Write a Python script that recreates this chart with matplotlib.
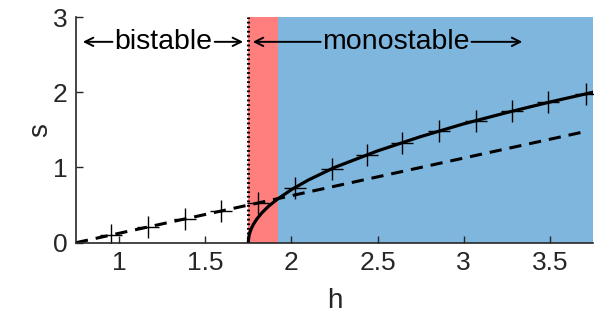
import matplotlib.pyplot as plt

plt.rcParams['font.family'] = ['Liberation Sans', 'DejaVu Sans']

# stable branch (solid)
h_solid = [1.75, 1.752, 1.755, 1.76, 1.77, 1.78, 1.80, 1.83, 1.87, 1.92, 2.0, 2.1,
           2.25, 2.5, 2.75, 3.0, 3.25, 3.5, 3.75]
s_solid = [0.0, 0.06, 0.10, 0.14, 0.20, 0.245, 0.316, 0.40, 0.49, 0.58, 0.705, 0.835,
           1.0, 1.22, 1.41, 1.58, 1.73, 1.87, 2.0]

# other branch (dashed)
h_dash = [0.75, 3.72]
s_dash = [0.0, 1.485]

# simulation points (crosses)
h_sim = [0.953, 1.166, 1.38, 1.593, 1.806, 2.02, 2.233, 2.436, 2.643, 2.858,
         3.07, 3.28, 3.49, 3.71]
s_sim = [0.10, 0.21, 0.315, 0.42, 0.53, 0.73, 0.98, 1.17, 1.33, 1.48,
         1.62, 1.75, 1.865, 1.98]

h_crit = 1.75      # dotted line
h_red_end = 1.922  # end of red band

fig = plt.figure(figsize=(5.98, 3.18), dpi=100)
ax = fig.add_axes([0.127, 0.2368, 0.8646, 0.7097])

ax.axvspan(h_crit, h_red_end, color='#ff7f7f', lw=0, zorder=0)
ax.axvspan(h_red_end, 3.75, color='#7fb6de', lw=0, zorder=0)
ax.plot([h_crit, h_crit], [0, 3], color='black', lw=2.2, ls=(0, (0.6, 0.9)), zorder=2)

ax.plot(h_dash, s_dash, color='black', lw=2.2, dashes=(4, 2.6), zorder=3)
ax.plot(h_solid, s_solid, color='black', lw=2.3, zorder=3)
ax.plot(h_sim, s_sim, ls='none', marker='+', ms=16, mew=1.0, color='black', zorder=4)

# region labels with arrows
arrow = dict(arrowstyle='->,head_length=0.6,head_width=0.3', lw=1.4, color='black',
             shrinkA=0, shrinkB=0)
ax.text(1.258, 2.67, 'bistable', fontsize=20.5, ha='center', va='center')
ax.annotate('', xy=(0.79, 2.67), xytext=(0.962, 2.67), arrowprops=arrow)
ax.annotate('', xy=(1.72, 2.67), xytext=(1.555, 2.67), arrowprops=arrow)
ax.text(2.607, 2.67, 'monostable', fontsize=20.5, ha='center', va='center')
ax.annotate('', xy=(1.776, 2.67), xytext=(2.17, 2.67), arrowprops=arrow)
ax.annotate('', xy=(3.34, 2.67), xytext=(3.045, 2.67), arrowprops=arrow)

ax.set_xlim(0.75, 3.75)
ax.set_ylim(0, 3)
ax.set_xticks([1, 1.5, 2, 2.5, 3, 3.5])
ax.set_xticklabels(['1', '1.5', '2', '2.5', '3', '3.5'])
ax.set_yticks([0, 1, 2, 3])
ax.tick_params(direction='in', length=5, width=1, colors='#262626', labelsize=19,
               labelcolor='#262626', pad=6)
for side in ['top', 'right']:
    ax.spines[side].set_visible(False)
for side in ['left', 'bottom']:
    ax.spines[side].set_color('#262626')
    ax.spines[side].set_linewidth(1.2)
    ax.spines[side].set_zorder(5)
ax.set_xlabel('h', fontsize=20, color='#262626', labelpad=9)
ax.set_ylabel('s', fontsize=20, color='#262626', labelpad=0)

fig.savefig('out.png', dpi=100)
